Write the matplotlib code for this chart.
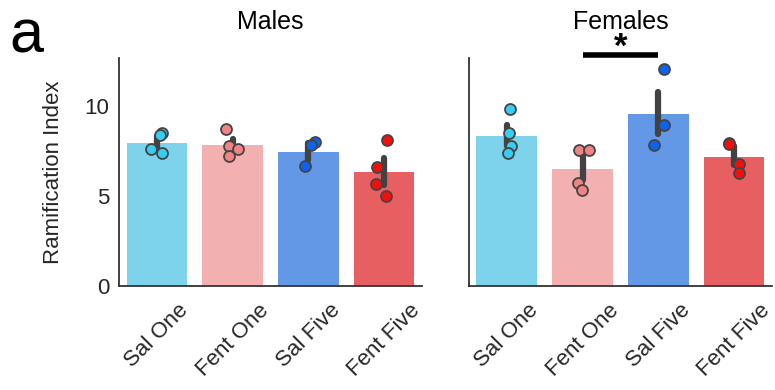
import numpy as np
import matplotlib
matplotlib.use('Agg')
import matplotlib.pyplot as plt

plt.rcParams['font.family'] = ['Liberation Sans', 'DejaVu Sans']

groups = ['Sal One', 'Fent One', 'Sal Five', 'Fent Five']
panels = ['Males', 'Females']

bar_colors = ['#7dd3eb', '#f2b0b1', '#6298e6', '#e85f61']
dot_colors = ['#35cdf2', '#f08484', '#0d63ef', '#f80d0d']

# group means of the ramification index
male_means = [7.93, 7.80, 7.43, 6.30]
female_means = [8.30, 6.48, 9.54, 7.17]

# error bar limits
male_err_lo = [7.56, 7.55, 7.00, 5.61]
male_err_hi = [8.33, 8.15, 7.93, 7.09]
female_err_lo = [7.74, 5.89, 8.44, 6.72]
female_err_hi = [8.94, 7.19, 10.74, 7.74]

# individual animals
male_points = [
    [8.48, 8.38, 7.61, 7.37],
    [8.70, 7.74, 7.61, 7.22],
    [7.98, 7.83, 6.63],
    [8.11, 6.61, 5.65, 5.02],
]
female_points = [
    [9.81, 8.48, 7.74, 7.37],
    [7.52, 7.52, 5.74, 5.33],
    [12.04, 8.91, 7.85],
    [7.96, 7.90, 6.78, 6.26],
]

# strip jitter (category units)
male_jitter = [
    [0.07, 0.04, -0.08, 0.07],
    [-0.09, -0.05, 0.07, -0.05],
    [0.09, 0.04, -0.05],
    [0.04, -0.09, -0.11, 0.03],
]
female_jitter = [
    [0.04, 0.03, 0.05, 0.01],
    [-0.05, 0.08, -0.06, -0.01],
    [0.08, 0.07, -0.05],
    [-0.07, -0.06, 0.06, 0.06],
]

sig_pair = (1, 2)
sig_level = 12.79

fig = plt.figure(figsize=(7.75, 3.9), dpi=100)
ax1 = fig.add_axes([0.1535, 0.2667, 0.391, 0.5846])
ax2 = fig.add_axes([0.605, 0.2667, 0.391, 0.5846])

data = [
    (ax1, male_means, male_err_lo, male_err_hi, male_points, male_jitter),
    (ax2, female_means, female_err_lo, female_err_hi, female_points, female_jitter),
]

x = np.arange(len(groups))
for (ax, means, lo, hi, pts, jit), title in zip(data, panels):
    ax.bar(x, means, width=0.8, color=bar_colors, zorder=1)
    for i in range(len(groups)):
        ax.plot([x[i], x[i]], [lo[i], hi[i]], color='#424242', lw=4.5,
                solid_capstyle='round', zorder=2)
        px = x[i] + np.array(jit[i])
        ax.scatter(px, pts[i], s=62, color=dot_colors[i], edgecolor='#444444',
                   linewidth=1.3, zorder=3)
    ax.set_xlim(-0.5, 3.5)
    ax.set_ylim(0, 12.65)
    ax.set_yticks([0, 5, 10])
    ax.set_xticks(x)
    ax.set_xticklabels(groups, rotation=45, fontsize=16)
    ax.tick_params(axis='both', length=0, labelsize=16, colors='#262626')
    ax.tick_params(axis='x', pad=10)
    ax.tick_params(axis='y', pad=7)
    for s in ['top', 'right']:
        ax.spines[s].set_visible(False)
    for s in ['left', 'bottom']:
        ax.spines[s].set_linewidth(1.3)
        ax.spines[s].set_color('#333333')
    ax.set_title(title, fontsize=18, pad=21)

ax1.set_ylabel('Ramification Index', fontsize=16, color='#262626', labelpad=15)
ax2.set_yticklabels([])

# significance marker between Fent One and Sal Five
ax2.plot(sig_pair, [sig_level, sig_level], color='black', lw=4, clip_on=False,
         solid_capstyle='butt')
ax2.text(np.mean(sig_pair), 12.72, '*', ha='center', va='baseline',
         fontsize=25, fontweight='bold', clip_on=False)

fig.text(0.012, 0.865, 'a', fontsize=44)

fig.savefig('out.png', dpi=100)
